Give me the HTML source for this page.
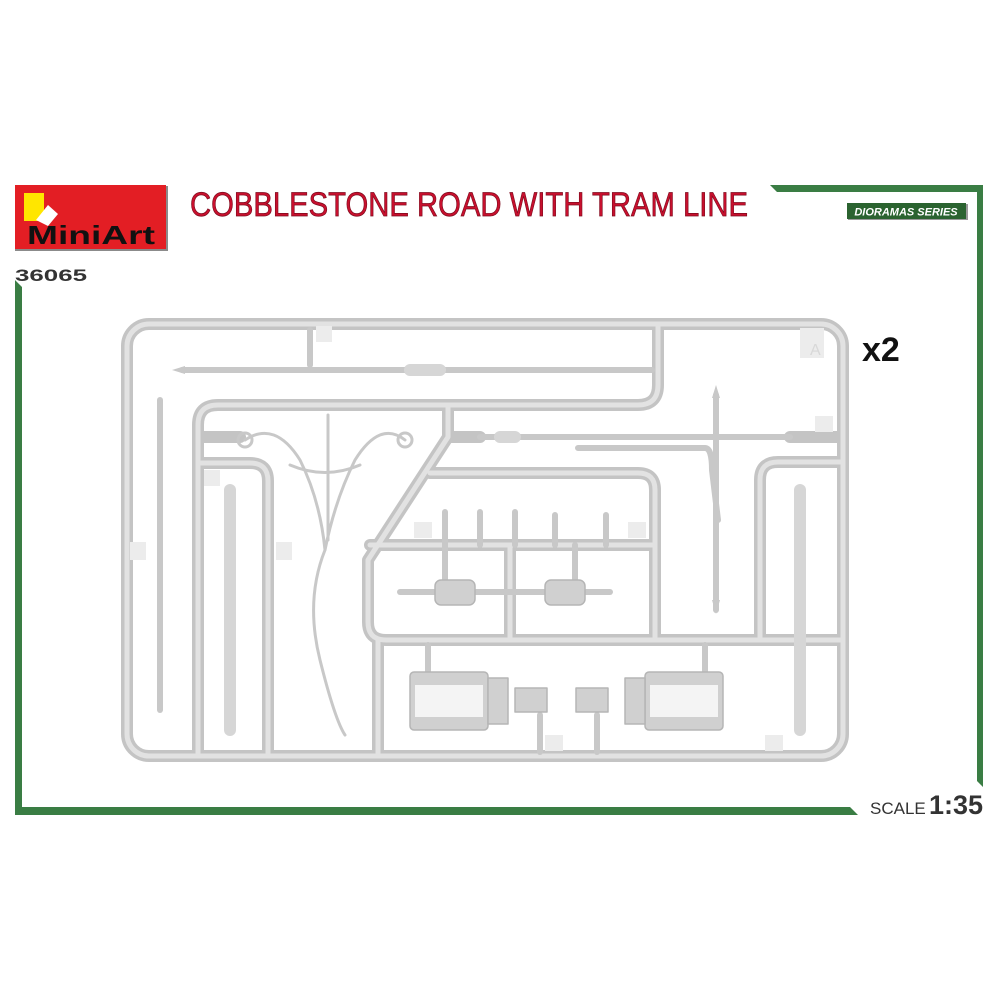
<!DOCTYPE html>
<html><head><meta charset="utf-8"><style>
html,body{margin:0;padding:0;background:#fff;width:1000px;height:1000px;overflow:hidden;font-family:"Liberation Sans",sans-serif}
</style></head><body>
<svg width="1000" height="1000" viewBox="0 0 1000 1000" xmlns="http://www.w3.org/2000/svg">
<polygon points="770,185 983,185 983,787 977,781 977,192 777,192" fill="#3a7d44"/>
<polygon points="15,280 22,287 22,807 850,807 858,815 15,815" fill="#3a7d44"/>
<rect x="15" y="186" width="153" height="65" fill="#8b8b8b"/>
<rect x="15" y="185" width="151" height="64" fill="#e31e24"/>
<rect x="24" y="193" width="20" height="28" fill="#ffe600"/>
<path d="M36,220 L48,205 L58,214 L48,226 Z" fill="#fff"/>
<text x="27" y="244" font-size="26" font-weight="bold" fill="#111" textLength="128" lengthAdjust="spacingAndGlyphs">MiniArt</text>
<text x="15" y="281" font-size="17" font-weight="bold" fill="#333" textLength="72" lengthAdjust="spacingAndGlyphs">36065</text>
<text x="190" y="216" font-size="34" fill="#c8102e" stroke="#7a0a1c" stroke-width="0.7" textLength="558" lengthAdjust="spacingAndGlyphs">COBBLESTONE ROAD WITH TRAM LINE</text>
<rect x="848" y="204" width="120" height="16" fill="#999"/>
<rect x="847" y="203" width="119" height="16" fill="#2b6330"/>
<text x="906" y="215.5" font-size="11" font-style="italic" font-weight="bold" fill="#fff" text-anchor="middle">DIORAMAS SERIES</text>
<text x="862" y="361" font-size="34" font-weight="bold" fill="#111">x2</text>
<text x="870" y="814" font-size="17" fill="#333">SCALE</text>
<text x="929" y="814" font-size="27" font-weight="bold" fill="#333">1:35</text>

<g fill="none" stroke-linecap="round" stroke-linejoin="round">
<g stroke="#c4c4c4" stroke-width="12">
<rect x="127" y="324" width="716" height="432" rx="22"/>
<path d="M658,324 V385 Q658,405 638,405 H218 Q198,405 198,425 V756"/>
<path d="M198,463 H250 Q268,463 268,481 V756"/>
<path d="M448,405 V437 L368,560 V622 Q368,640 386,640 H840"/>
<path d="M430,473 H638 Q655,473 655,490 V640"/>
<path d="M370,545 H655"/>
<path d="M378,640 V756"/><path d="M510,545 V640"/>
<path d="M760,640 V480 Q760,462 778,462 H843"/>
<path d="M200,437 H240"/><path d="M448,437 H480"/><path d="M790,437 H843"/>
</g>
<g stroke="#e2e2e2" stroke-width="5">
<rect x="127" y="324" width="716" height="432" rx="22"/>
<path d="M658,324 V385 Q658,405 638,405 H218 Q198,405 198,425 V756"/>
<path d="M198,463 H250 Q268,463 268,481 V756"/>
<path d="M448,405 V437 L368,560 V622 Q368,640 386,640 H840"/>
<path d="M430,473 H638 Q655,473 655,490 V640"/>
<path d="M370,545 H655"/>
<path d="M378,640 V756"/><path d="M510,545 V640"/>
<path d="M760,640 V480 Q760,462 778,462 H843"/>
</g>
<g stroke="#c8c8c8" stroke-width="6">
<path d="M182,370 H652"/>
<path d="M480,437 H790"/>
<path d="M160,400 V710"/>
<path d="M578,448 H705 Q712,448 712,470 L718,520"/>
<path d="M716,395 V610"/>
<path d="M400,592 H610"/>
<path d="M310,330 V365"/>
<path d="M445,512 V545"/><path d="M480,512 V545"/><path d="M515,512 V545"/><path d="M555,515 V545"/><path d="M606,515 V545"/>
<path d="M445,545 V580"/><path d="M575,545 V580"/>
<path d="M428,645 V675"/><path d="M705,645 V675"/>
<path d="M540,715 V752"/><path d="M597,715 V752"/>
</g>
<g stroke="#d6d6d6" stroke-width="12">
<path d="M230,490 V730"/><path d="M800,490 V730"/>
<path d="M410,370 H440"/>
<path d="M500,437 H515"/>
</g>
<g stroke="#c8c8c8" stroke-width="3">
<path d="M245,440 Q275,420 300,460 Q320,500 325,550 Q305,600 320,660 Q335,720 345,735"/>
<path d="M405,440 Q380,420 355,460 Q335,500 325,550"/>
<path d="M290,465 Q325,480 360,465"/>
<path d="M328,415 V540"/>
<circle cx="245" cy="440" r="7"/><circle cx="405" cy="440" r="7"/>
</g>
<g fill="#d0d0d0" stroke="#b5b5b5" stroke-width="1.5">
<rect x="435" y="580" width="40" height="25" rx="6"/>
<rect x="545" y="580" width="40" height="25" rx="6"/>
<rect x="410" y="672" width="78" height="58" rx="4"/>
<rect x="645" y="672" width="78" height="58" rx="4"/>
<rect x="488" y="678" width="20" height="46"/>
<rect x="625" y="678" width="20" height="46"/>
<rect x="515" y="688" width="32" height="24"/>
<rect x="576" y="688" width="32" height="24"/>
</g>
<rect x="415" y="685" width="68" height="32" fill="#f4f4f4"/>
<rect x="650" y="685" width="68" height="32" fill="#f4f4f4"/>
<g fill="#c8c8c8">
<polygon points="172,370 185,366 185,374"/>
<polygon points="716,385 712,398 720,398"/>
<polygon points="716,614 712,600 720,600"/>
</g>
</g>
<g fill="#ececec">
<rect x="316" y="326" width="16" height="16"/><rect x="800" y="328" width="24" height="30"/>
<rect x="815" y="416" width="18" height="16"/><rect x="130" y="542" width="16" height="18"/>
<rect x="276" y="542" width="16" height="18"/><rect x="414" y="522" width="18" height="16"/>
<rect x="628" y="522" width="18" height="16"/><rect x="545" y="735" width="18" height="16"/>
<rect x="765" y="735" width="18" height="16"/><rect x="204" y="470" width="16" height="16"/>
</g>
<text x="810" y="355" font-size="16" fill="#d8d8d8">A</text>
</svg>
</body></html>
